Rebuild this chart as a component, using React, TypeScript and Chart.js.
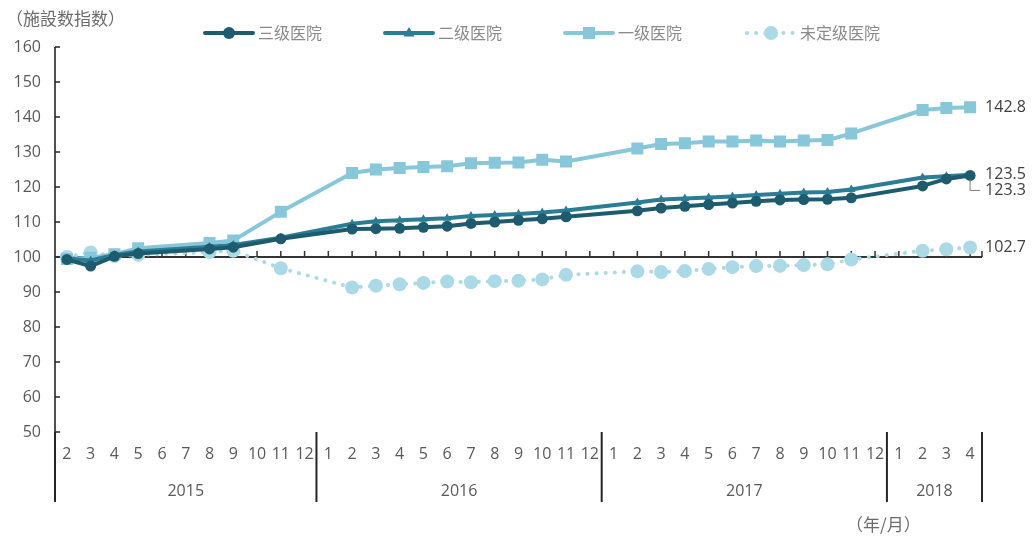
import { useEffect, useRef } from 'react';
import { Chart, registerables } from 'chart.js';

Chart.register(...registerables);

const FONT = '"Open Sans", "Noto Sans", sans-serif';
const CJK = '"Noto Sans CJK SC", "Noto Sans CJK JP", sans-serif';

const monthLabels = [
  '2', '3', '4', '5', '6', '7', '8', '9', '10', '11', '12',
  '1', '2', '3', '4', '5', '6', '7', '8', '9', '10', '11', '12',
  '1', '2', '3', '4', '5', '6', '7', '8', '9', '10', '11', '12',
  '1', '2', '3', '4',
];
const years = ['2015', '2016', '2017', '2018'];
const monthsPerYear = [11, 12, 12, 4];

const seriesNames = ['三级医院', '二级医院', '一级医院', '未定级医院'];

const tertiary = [
  99.3, 97.4, 100.2, 101.0, null, null, 102.3, 102.8, null, 105.2, null,
  null, 108.0, 108.1, 108.2, 108.5, 108.8, 109.6, 110.0, 110.5, 110.9, 111.5, null,
  null, 113.2, 114.0, 114.5, 115.0, 115.4, 115.9, 116.3, 116.4, 116.5, 116.9, null,
  null, 120.3, 122.3, 123.3,
];
const secondary = [
  99.6, 99.0, 100.6, 101.6, null, null, 102.9, 103.4, null, 105.5, null,
  null, 109.5, 110.2, 110.5, 110.8, 111.1, 111.7, 112.0, 112.3, 112.7, 113.3, null,
  null, 115.6, 116.4, 116.7, 117.0, 117.3, 117.7, 118.1, 118.4, 118.6, 119.3, null,
  null, 122.7, 123.1, 123.5,
];
const primary = [
  99.4, 99.8, 100.8, 102.5, null, null, 104.0, 104.7, null, 112.9, null,
  null, 124.0, 125.0, 125.4, 125.7, 125.9, 126.8, 126.9, 127.0, 127.8, 127.3, null,
  null, 131.0, 132.3, 132.5, 133.0, 133.0, 133.3, 133.0, 133.3, 133.4, 135.3, null,
  null, 142.0, 142.6, 142.8,
];
const unrated = [
  100.0, 101.3, 100.3, 100.6, null, null, 101.4, 101.8, null, 96.8, null,
  null, 91.3, 91.8, 92.2, 92.6, 93.0, 92.8, 93.1, 93.2, 93.6, 94.9, null,
  null, 95.9, 95.7, 96.0, 96.6, 97.1, 97.4, 97.5, 97.7, 97.9, 99.3, null,
  null, 101.8, 102.2, 102.7,
];

const endLabels = ['123.3', '123.5', '142.8', '102.7'];

const colors = ['#1e5b6e', '#2b7d96', '#88c6d9', '#acd9e6'];
const pointStyles = ['circle', 'triangle', 'rect', 'circle'];
const pointRadii = [5.5, 5, 8.5, 7];
const legendRadii = [6, 5, 6, 7];

function drawMarker(ctx: CanvasRenderingContext2D, style: string, x: number, y: number, r: number, color: string) {
  ctx.fillStyle = color;
  ctx.beginPath();
  if (style === 'circle') {
    ctx.arc(x, y, r, 0, Math.PI * 2);
  } else if (style === 'rect') {
    ctx.rect(x - r, y - r, r * 2, r * 2);
  } else {
    ctx.moveTo(x, y - r * 1.2);
    ctx.lineTo(x + r * 1.1, y + r * 0.7);
    ctx.lineTo(x - r * 1.1, y + r * 0.7);
    ctx.closePath();
  }
  ctx.fill();
}

const decor = {
  id: 'decor',
  beforeDatasetsDraw(chart: any) {
    const { ctx, chartArea: a, scales } = chart;
    const xs = scales.x;
    const ys = scales.y;
    ctx.save();
    ctx.setLineDash([]);
    ctx.strokeStyle = '#262626';
    ctx.lineWidth = 1.6;
    ctx.beginPath();
    ctx.moveTo(a.left, a.top);
    ctx.lineTo(a.left, 502);
    for (let v = 50; v <= 160; v += 10) {
      const py = ys.getPixelForValue(v);
      ctx.moveTo(a.left, py);
      ctx.lineTo(a.left + 5, py);
    }
    ctx.stroke();

    const y100 = Math.round(ys.getPixelForValue(100));
    ctx.strokeStyle = '#333333';
    ctx.lineWidth = 2;
    ctx.beginPath();
    ctx.moveTo(a.left, y100);
    ctx.lineTo(a.right, y100);
    ctx.stroke();
    ctx.lineWidth = 1.5;
    ctx.beginPath();
    for (let i = 0; i < monthLabels.length; i++) {
      const px = xs.getPixelForValue(i);
      ctx.moveTo(px, y100);
      ctx.lineTo(px, y100 - 6);
    }
    ctx.moveTo(a.right, y100);
    ctx.lineTo(a.right, y100 - 6);
    ctx.stroke();

    // year separators and labels
    ctx.strokeStyle = '#262626';
    ctx.lineWidth = 2;
    ctx.beginPath();
    let idx = 0;
    const bounds = [0];
    monthsPerYear.forEach((c) => { idx += c; bounds.push(idx); });
    bounds.forEach((b) => {
      const px = xs.getPixelForValue(b - 0.5);
      ctx.moveTo(px, a.bottom);
      ctx.lineTo(px, 502);
    });
    ctx.stroke();

    ctx.fillStyle = '#595959';
    ctx.font = `16px ${FONT}`;
    ctx.textAlign = 'center';
    ctx.textBaseline = 'middle';
    years.forEach((yr, k) => {
      const start = bounds[k];
      const mid = start + (monthsPerYear[k] - 1) / 2;
      ctx.fillText(yr, xs.getPixelForValue(mid), 491);
    });
    ctx.restore();
  },
  afterDatasetsDraw(chart: any) {
    const { ctx } = chart;
    ctx.save();
    // end labels
    ctx.font = `16px ${FONT}`;
    ctx.fillStyle = '#404040';
    ctx.textAlign = 'left';
    ctx.textBaseline = 'middle';
    chart.data.datasets.forEach((ds: any, k: number) => {
      const meta = chart.getDatasetMeta(k);
      const last = meta.data[meta.data.length - 1];
      if (!last) return;
      if (k === 0) {
        const ly = last.y + 15;
        ctx.strokeStyle = '#7f7f7f';
        ctx.lineWidth = 1;
        ctx.beginPath();
        ctx.moveTo(last.x, last.y + 4);
        ctx.lineTo(last.x, ly);
        ctx.lineTo(last.x + 10, ly);
        ctx.stroke();
        ctx.fillText(endLabels[k], last.x + 15, ly);
      } else {
        ctx.fillText(endLabels[k], last.x + 15, last.y);
      }
    });

    // legend
    const starts = [203, 383, 563, 745];
    const ly = 33;
    ctx.font = `16px ${CJK}`;
    seriesNames.forEach((name, k) => {
      const sx = starts[k];
      const ex = sx + 50;
      ctx.strokeStyle = colors[k];
      ctx.lineWidth = 4;
      ctx.lineCap = 'round';
      if (k === 3) ctx.setLineDash([0.1, 9]);
      else ctx.setLineDash([]);
      ctx.beginPath();
      ctx.moveTo(sx + 2, ly);
      ctx.lineTo(ex, ly);
      ctx.stroke();
      ctx.setLineDash([]);
      drawMarker(ctx, pointStyles[k], (sx + ex) / 2 + 1, ly, legendRadii[k], colors[k]);
      ctx.fillStyle = '#8a8a8a';
      ctx.fillText(name, ex + 5, ly);
    });

    // titles
    ctx.fillStyle = '#6b6b6b';
    ctx.font = `17px ${CJK}`;
    ctx.fillText('（施設数指数）', 6, 19);
    ctx.fillText('（年/月）', 846, 525);
    ctx.restore();
  },
};

export default function App() {
  const ref = useRef<HTMLCanvasElement | null>(null);

  useEffect(() => {
    document.body.style.margin = '0';
    if (!ref.current) return;
    const seriesData = [tertiary, secondary, primary, unrated];
    const chart = new Chart(ref.current, {
      type: 'line',
      data: {
        labels: monthLabels,
        datasets: seriesData.map((d, k) => ({
          label: seriesNames[k],
          data: d,
          borderColor: colors[k],
          backgroundColor: colors[k],
          borderWidth: 4,
          borderDash: k === 3 ? [0.1, 9] : [],
          borderCapStyle: 'round' as const,
          borderJoinStyle: 'round' as const,
          pointStyle: pointStyles[k] as any,
          pointRadius: pointRadii[k],
          pointBorderWidth: 0,
          pointBackgroundColor: colors[k],
          spanGaps: true,
          tension: 0,
        })),
      },
      options: {
        animation: false,
        responsive: false,
        layout: { padding: { top: 47, right: 51, left: 0, bottom: 0 } },
        plugins: { legend: { display: false }, tooltip: { enabled: false } },
        scales: {
          x: {
            type: 'category',
            offset: true,
            grid: { display: false, drawTicks: false },
            border: { display: false },
            ticks: {
              autoSkip: false,
              maxRotation: 0,
              minRotation: 0,
              padding: 13,
              color: '#595959',
              font: { family: FONT, size: 16 },
            },
            afterFit: (s: any) => { s.height = 106; },
          },
          y: {
            min: 50,
            max: 160,
            grid: { display: false, drawTicks: false },
            border: { display: false },
            ticks: {
              stepSize: 10,
              padding: 14,
              color: '#595959',
              font: { family: FONT, size: 16 },
            },
            afterFit: (s: any) => { s.width = 55; },
          },
        },
      },
      plugins: [decor],
    });
    return () => chart.destroy();
  }, []);

  return (
    <div style={{ width: 1033, height: 538 }}>
      <canvas ref={ref} width={1033} height={538} />
    </div>
  );
}
